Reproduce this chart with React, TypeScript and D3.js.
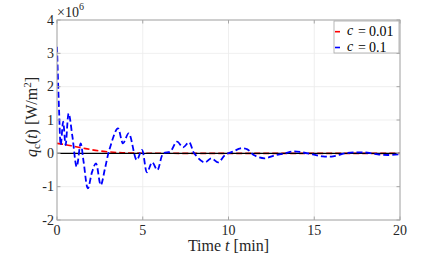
import React from "react";
import * as d3 from "d3";

const xTicks = [0, 5, 10, 15, 20];
const yTicks = [-2, -1, 0, 1, 2, 3, 4];

const redT = [0, 0.5, 1, 1.5, 2, 2.5, 3, 3.5, 4, 5, 6, 8, 10, 12, 14, 16, 18, 20];
const redV = [0.3, 0.26, 0.21, 0.16, 0.11, 0.07, 0.045, 0.025, 0.012, 0.004, 0.001, 0, 0, 0, 0, 0, 0, 0];

const blueT = [0, 0.12, 0.22, 0.36, 0.5, 0.68, 0.9, 1.15, 1.38, 1.55, 1.8, 2.05, 2.27, 2.55, 2.8, 3.05, 3.55, 3.85, 4.18, 4.65, 4.95, 5.25, 5.55, 5.85, 6.2, 6.6, 7.0, 7.35, 7.7, 8.0, 8.6, 9.0, 9.4, 9.8, 10.3, 10.7, 11.1, 11.5, 12.1, 12.7, 13.3, 13.8, 14.3, 14.9, 15.5, 16.1, 16.8, 17.5, 18.1, 18.7, 19.3, 20];
const blueV = [3.2, 1.3, 0.25, 0.95, 0.25, 1.2, 0.5, -0.4, 0.3, -0.25, -1.05, -0.55, -0.3, -0.95, -0.45, 0.1, 0.75, 0.3, 0.6, -0.2, 0.1, -0.57, -0.27, -0.5, 0.0, 0.05, 0.35, 0.18, 0.33, 0.0, -0.27, -0.15, -0.27, -0.05, 0.06, 0.15, 0.12, -0.06, -0.15, -0.06, 0.0, 0.06, 0.03, -0.03, -0.09, -0.09, 0.0, 0.03, 0.02, -0.03, -0.05, -0.03];

const legendLabels = ["0.01", "0.1"];

export default function App() {
  const W = 443, H = 259;
  const x0 = 57, x1 = 400, y0 = 20, y1 = 220;
  const x = d3.scaleLinear().domain([0, 20]).range([x0, x1]);
  const y = d3.scaleLinear().domain([-2, 4]).range([y1, y0]);
  const line = d3.line<[number, number]>().x(d => x(d[0])).y(d => y(d[1])).curve(d3.curveCatmullRom.alpha(0.5));
  const red = line(redT.map((t, i) => [t, redV[i]]) as [number, number][]) || "";
  const blue = line(blueT.map((t, i) => [t, blueV[i]]) as [number, number][]) || "";
  const font = "Liberation Serif, Times New Roman, serif";
  const axisColor = "#262626";
  const boxColor = "#a6a6a6";
  const legendColors = ["#ff0000", "#0000ff"];
  const legendY = [31.7, 47.5];
  return (
    <svg width={W} height={H} style={{ position: "absolute", left: 0, top: 0, background: "#fff", fontFamily: font }}>
      <rect x={0} y={0} width={W} height={H} fill="#fff" />
      <defs>
        <clipPath id="plot"><rect x={x0} y={y0} width={x1 - x0} height={y1 - y0} /></clipPath>
      </defs>
      {xTicks.map(t => (
        <line key={"gx" + t} x1={x(t)} x2={x(t)} y1={y0} y2={y1} stroke="#ebebeb" strokeWidth={0.8} />
      ))}
      {yTicks.map(t => (
        <line key={"gy" + t} x1={x0} x2={x1} y1={y(t)} y2={y(t)} stroke="#ebebeb" strokeWidth={0.8} />
      ))}
      <g clipPath="url(#plot)">
        <path d={red} fill="none" stroke="#ff0000" strokeWidth={1.6} strokeDasharray="6,3" />
        <line x1={x0} x2={x1} y1={y(0)} y2={y(0)} stroke="#000" strokeWidth={1.2} />
        <path d={blue} fill="none" stroke="#0000ff" strokeWidth={1.8} strokeDasharray="6,3" />
      </g>
      <rect x={x0} y={y0} width={x1 - x0} height={y1 - y0} fill="none" stroke={boxColor} strokeWidth={1} />
      {xTicks.map(t => (
        <g key={"tx" + t}>
          <line x1={x(t)} x2={x(t)} y1={y1} y2={y1 - 3.5} stroke={boxColor} />
          <line x1={x(t)} x2={x(t)} y1={y0} y2={y0 + 3.5} stroke={boxColor} />
          <text x={x(t)} y={y1 + 15} textAnchor="middle" fontSize={14} fill={axisColor}>{t}</text>
        </g>
      ))}
      {yTicks.map(t => (
        <g key={"ty" + t}>
          <line x1={x0} x2={x0 + 3.5} y1={y(t)} y2={y(t)} stroke={boxColor} />
          <line x1={x1} x2={x1 - 3.5} y1={y(t)} y2={y(t)} stroke={boxColor} />
          <text x={x0 - 3} y={y(t) + 4.5} textAnchor="end" fontSize={14} fill={axisColor}>{t}</text>
        </g>
      ))}
      <text x={x0} y={16.5} fontSize={14} fill={axisColor}>×10<tspan dy={-7} fontSize={10}>6</tspan></text>
      <text x={(x0 + x1) / 2} y={251} textAnchor="middle" fontSize={16} fill={axisColor}>
        Time <tspan fontStyle="italic">t</tspan> [min]
      </text>
      <text transform={`translate(37,${(y0 + y1) / 2 - 3}) rotate(-90)`} textAnchor="middle" fontSize={16} fill={axisColor}>
        <tspan fontStyle="italic">q</tspan><tspan fontSize={11} dy={3}>c</tspan><tspan dy={-3}>(</tspan><tspan fontStyle="italic">t</tspan>)  [W/m<tspan fontSize={11} dy={-6}>2</tspan><tspan dy={6}>]</tspan>
      </text>
      <rect x={334} y={21} width={65} height={32} fill="#fff" stroke={boxColor} strokeWidth={0.8} />
      {legendLabels.map((lab, i) => (
        <g key={"lg" + i}>
          <line x1={335} x2={340} y1={legendY[i]} y2={legendY[i]} stroke={legendColors[i]} strokeWidth={1.6} />
          <text x={347} y={legendY[i] + 3} fontSize={14} fontStyle="italic" fill="#000">c</text>
          <text x={358} y={legendY[i] + 4} fontSize={14} fill="#000">=</text>
          <text x={369} y={legendY[i] + 4.5} fontSize={14} fill="#000">{lab}</text>
        </g>
      ))}
    </svg>
  );
}
